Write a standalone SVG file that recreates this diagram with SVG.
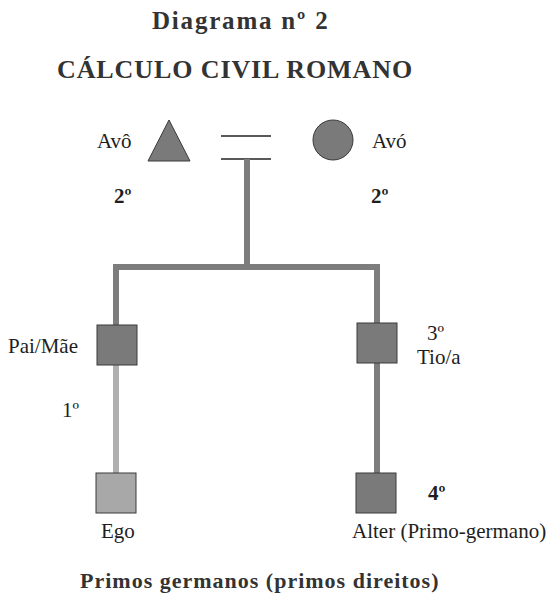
<svg xmlns="http://www.w3.org/2000/svg" width="552" height="595" viewBox="0 0 552 595">
  <style>
    text { font-family: "Liberation Serif", "Times New Roman", serif; fill: #1e1e1e; }
    .title { font-weight: bold; fill: #333333; }
    .lbl { font-size: 21px; }
    .deg { font-size: 21px; font-weight: bold; }
    .shape { fill: #7a7a7a; stroke: #3a3a3a; stroke-width: 1; }
    .ego { fill: #a8a8a8; stroke: #3a3a3a; stroke-width: 1; }
    .line { stroke: #7d7d7d; stroke-width: 6; fill: none; }
    .light { stroke: #b0b0b0; stroke-width: 6; fill: none; }
    .eq { stroke: #5a5a5a; stroke-width: 2; }
  </style>
  <rect width="552" height="595" fill="#ffffff"/>

  <!-- headings -->
  <text class="title" x="152" y="29" font-size="25" letter-spacing="1.8">Diagrama nº 2</text>
  <text class="title" x="57" y="78" font-size="26" letter-spacing="0.9">CÁLCULO CIVIL ROMANO</text>

  <!-- connectors -->
  <g id="connectors">
    <line class="eq" x1="221" y1="136" x2="271" y2="136"/>
    <line class="eq" x1="221" y1="159" x2="271" y2="159"/>
    <line class="line" x1="247" y1="159" x2="247" y2="267"/>
    <line class="line" x1="113" y1="267" x2="380" y2="267"/>
    <line class="line" x1="116" y1="264" x2="116" y2="325"/>
    <line class="light" x1="116" y1="365" x2="116" y2="473"/>
    <line class="line" x1="377" y1="264" x2="377" y2="473"/>
  </g>

  <!-- grandfather -->
  <g id="avo-m">
    <polygon class="shape" points="148,161 169,120 190,161"/>
    <text class="lbl" x="97" y="148">Avô</text>
  </g>
  <!-- grandmother -->
  <g id="avo-f">
    <circle class="shape" cx="333" cy="140" r="20"/>
    <text class="lbl" x="372" y="148">Avó</text>
  </g>

  <g id="deg-2">
    <text class="deg" x="114" y="203">2º</text>
    <text class="deg" x="371" y="203">2º</text>
  </g>

  <!-- parent -->
  <g id="pai-mae">
    <rect class="shape" x="97" y="325" width="40" height="40"/>
    <text class="lbl" x="8" y="353">Pai/Mãe</text>
  </g>
  <!-- uncle / aunt -->
  <g id="tio">
    <rect class="shape" x="357" y="323" width="40" height="40"/>
    <text class="lbl" x="427" y="340">3º</text>
    <text class="lbl" x="417" y="364">Tio/a</text>
  </g>

  <text class="lbl" x="62" y="417">1º</text>

  <!-- ego -->
  <g id="ego">
    <rect class="ego" x="96" y="473" width="40" height="40"/>
    <text class="lbl" x="101" y="538">Ego</text>
  </g>
  <!-- cousin -->
  <g id="alter">
    <rect class="shape" x="356" y="473" width="40" height="40"/>
    <text class="deg" x="428" y="500">4º</text>
    <text class="lbl" x="352" y="538">Alter (Primo-germano)</text>
  </g>

  <text class="title" x="80" y="588" font-size="22" letter-spacing="1">Primos germanos (primos direitos)</text>
</svg>
